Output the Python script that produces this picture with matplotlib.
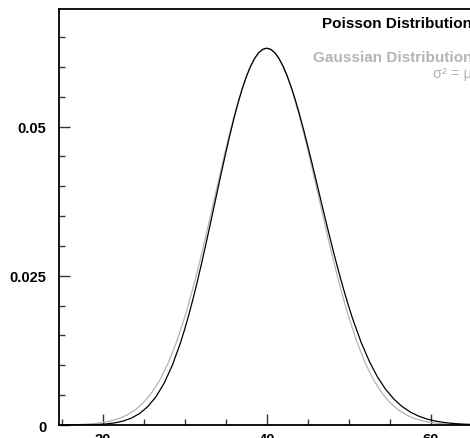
"""Poisson vs Gaussian distribution (mean 40), matplotlib."""

import matplotlib

matplotlib.use("Agg")
import matplotlib.pyplot as plt
from matplotlib.ticker import MultipleLocator, FixedLocator

plt.rcParams["font.family"] = ["Liberation Sans", "DejaVu Sans"]

# Poisson, mean 40 (curve, finer near the peak)
poisson_x = [14.5, 15.5, 16.5, 17.5, 18.5, 19.5, 20.5, 21.5, 22.5, 23.5,
             24.5, 25.5, 26.5, 27.5, 28.5, 29.5,
             30, 30.5, 31, 31.5, 32, 32.5, 33, 33.5, 34, 34.5, 35, 35.5,
             36, 36.5, 37, 37.5, 38, 38.5, 39, 39.5, 40, 40.5, 41, 41.5,
             42, 42.5, 43, 43.5, 44, 44.5, 45, 45.5, 46, 46.5, 47, 47.5,
             48, 48.5, 49, 49.5, 50, 50.5,
             51.5, 52.5, 53.5, 54.5, 55.5, 56.5, 57.5, 58.5, 59.5, 60.5,
             61.5, 62.5, 63.5, 64.5, 65.5]
poisson_y = [0.0000013, 0.0000035, 0.0000087, 0.0000205, 0.0000456, 0.0000960,
             0.000192, 0.000366, 0.000665, 0.001156, 0.001927, 0.003084,
             0.004744, 0.007028, 0.010040, 0.013849,
             0.016059, 0.018465, 0.021060, 0.023826, 0.026743, 0.029783,
             0.032915, 0.036100, 0.039301, 0.042471, 0.045567, 0.048538,
             0.051342, 0.053931, 0.056265, 0.058304, 0.060016, 0.061373,
             0.062355, 0.062947, 0.063145, 0.062947, 0.062365, 0.061412,
             0.060111, 0.058488, 0.056575, 0.054407, 0.052023, 0.049461,
             0.046762, 0.043965, 0.041110, 0.038231, 0.035363, 0.032537,
             0.029780, 0.027114, 0.024560, 0.022134, 0.019847, 0.017707,
             0.013888, 0.010683, 0.008063, 0.005972, 0.004344, 0.003103,
             0.002177, 0.001502, 0.001018, 0.000679, 0.000445, 0.000287,
             0.000182, 0.000114, 0.0000701]

# Gaussian with sigma^2 = mu = 40
gauss_x = [15, 16, 17, 18, 19, 20, 21, 22, 23, 24, 25, 26, 27, 28, 29,
           30, 30.5, 31, 31.5, 32, 32.5, 33, 33.5, 34, 34.5, 35, 35.5,
           36, 36.5, 37, 37.5, 38, 38.5, 39, 39.5, 40, 40.5, 41, 41.5,
           42, 42.5, 43, 43.5, 44, 44.5, 45, 45.5, 46, 46.5, 47, 47.5,
           48, 48.5, 49, 49.5, 50,
           51, 52, 53, 54, 55, 56, 57, 58, 59, 60, 61, 62, 63, 64, 65]
gauss_y = [0.0000255, 0.0000471, 0.0000847, 0.000149, 0.000255, 0.000425,
           0.000692, 0.001099, 0.001702, 0.002571, 0.003788, 0.005443,
           0.007628, 0.010427, 0.013900,
           0.018072, 0.020415, 0.022914, 0.025566, 0.028343, 0.031226,
           0.034188, 0.037197, 0.040220, 0.043218, 0.046149, 0.048973,
           0.051644, 0.054122, 0.056366, 0.058338, 0.060002, 0.061329,
           0.062294, 0.062881, 0.063078, 0.062881, 0.062294, 0.061329,
           0.060002, 0.058338, 0.056366, 0.054122, 0.051644, 0.048973,
           0.046149, 0.043218, 0.040220, 0.037197, 0.034188, 0.031226,
           0.028343, 0.025566, 0.022914, 0.020415, 0.018072,
           0.013900, 0.010427, 0.007628, 0.005443, 0.003788, 0.002571,
           0.001702, 0.001099, 0.000692, 0.000425, 0.000255, 0.000149,
           0.0000847, 0.0000471, 0.0000255]

y_ticks = [0, 0.025, 0.05]
y_labels = ["0", "0.025", "0.05"]
x_ticks = [20, 40, 60]

fig = plt.figure(figsize=(4.7, 4.39), dpi=100)
ax = fig.add_axes([0.1255, 0.0296, 0.884, 0.9476])

ax.plot(gauss_x, gauss_y, color="#b4b4b4", lw=0.9)
ax.plot(poisson_x, poisson_y, color="black", lw=0.9)

ax.set_xlim(14.67, 65.33)
ax.set_ylim(0, 0.0697)

ax.xaxis.set_major_locator(FixedLocator(x_ticks))
ax.xaxis.set_minor_locator(MultipleLocator(5))
ax.yaxis.set_major_locator(FixedLocator(y_ticks))
ax.yaxis.set_minor_locator(MultipleLocator(0.005))
ax.set_yticklabels(y_labels)
ax.tick_params(which="both", direction="in", top=False, right=False,
               labelsize=10.5, width=1.0, color="#333333")
ax.tick_params(which="major", length=8)
ax.tick_params(which="minor", length=4)
ax.tick_params(axis="y", pad=9)
ax.tick_params(axis="x", pad=5)
for lab in ax.get_xticklabels() + ax.get_yticklabels():
    lab.set_fontweight("bold")
for sp in ax.spines.values():
    sp.set_linewidth(1.3)

# Legend-style labels in the top right corner (cut by the figure edge)
ax.text(0.995, 0.967, "Poisson Distribution", transform=ax.transAxes,
        ha="right", va="center", fontsize=11, fontweight="bold", color="black")
ax.text(0.995, 0.885, "Gaussian Distribution", transform=ax.transAxes,
        ha="right", va="center", fontsize=11, fontweight="bold", color="#b4b4b4")
ax.text(0.995, 0.847, "σ² = μ", transform=ax.transAxes,
        ha="right", va="center", fontsize=10.5, color="#b4b4b4")

fig.savefig("out.png", dpi=100)
